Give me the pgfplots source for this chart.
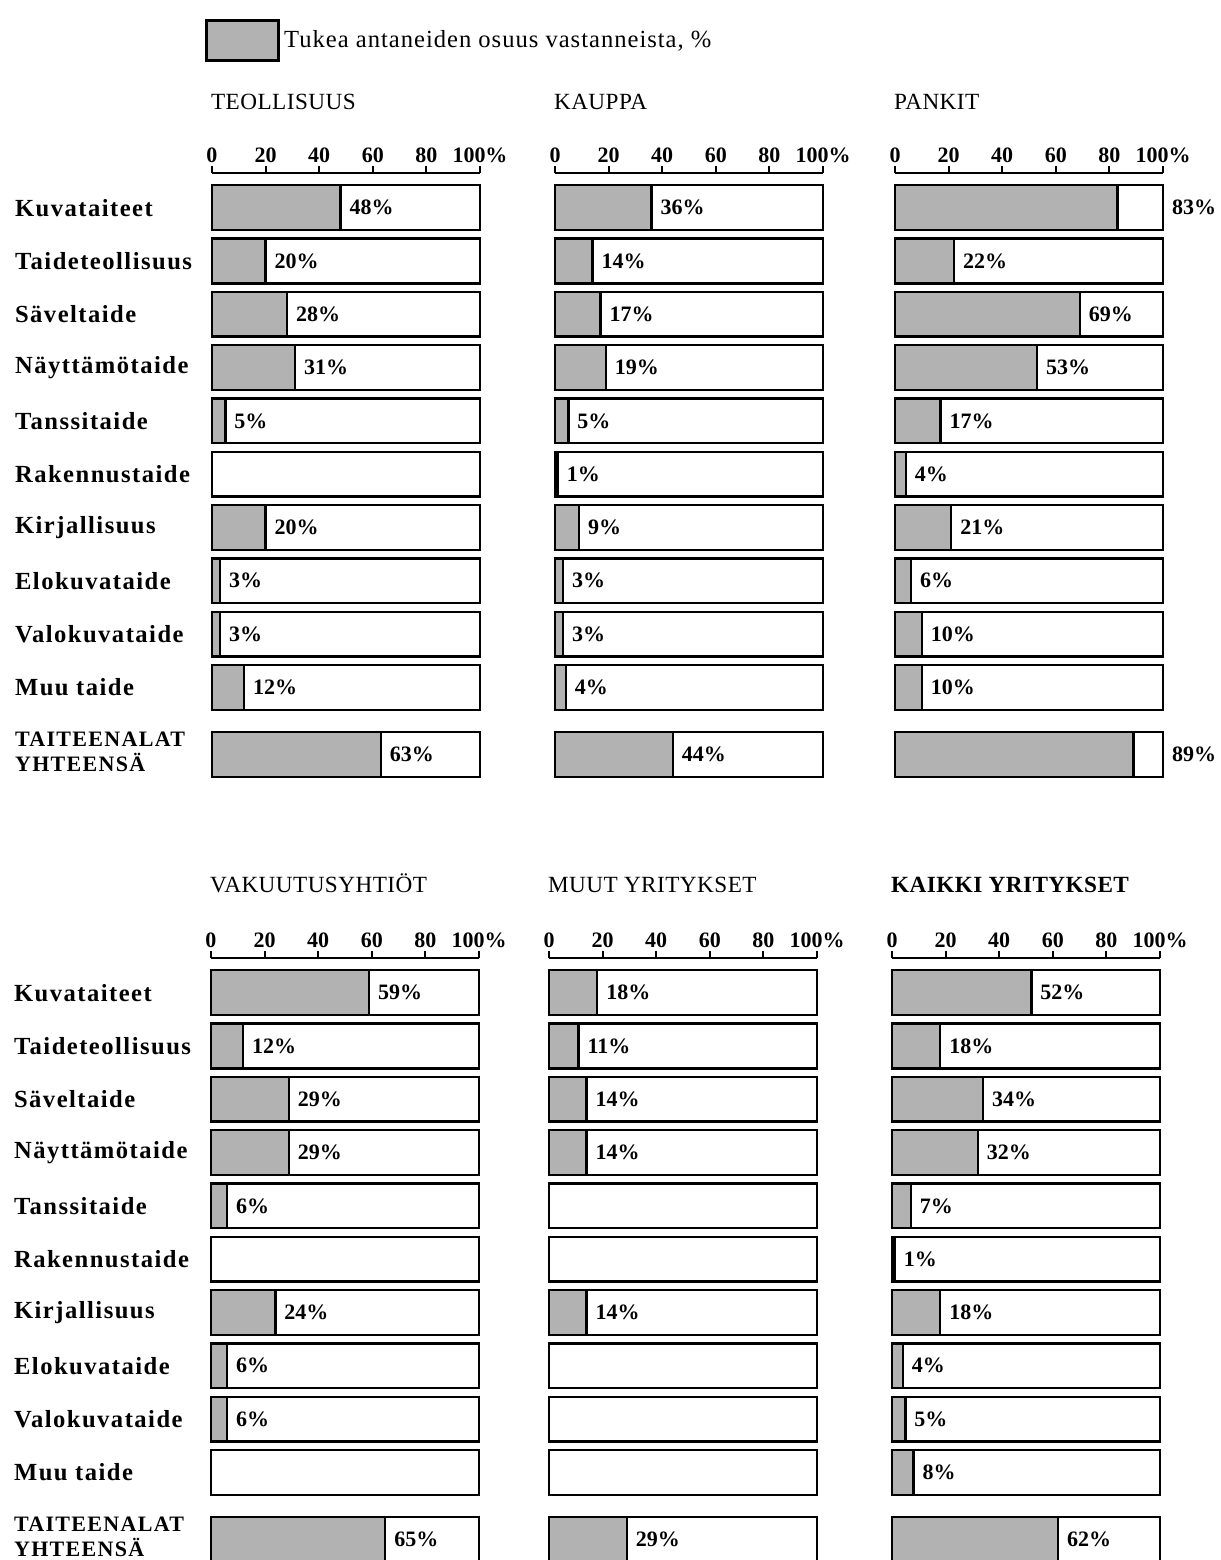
\documentclass[border=0pt]{standalone}
\usepackage{fontspec}
\setmainfont{Liberation Serif}
\newfontfamily\catfont[LetterSpace=6]{Liberation Serif}
\newfontfamily\titfont[LetterSpace=2]{Liberation Serif}
\newfontfamily\totfont[LetterSpace=6]{Liberation Serif}
\newfontfamily\legfont[LetterSpace=4]{Liberation Serif}
\usepackage{pgfplots}
\usepackage{pgfplotstable}
\pgfplotsset{compat=1.18}

\pgfplotstableread{
y v lx f
0 48 48 100
-1 20 20 100
-2 28 28 100
-3 31 31 100
-4 5 5 100
-5 nan nan 100
-6 20 20 100
-7 3 3 100
-8 3 3 100
-9 12 12 100
-10.26 63 63 100
}\teol
\pgfplotstableread{
y v lx f
0 36 36 100
-1 14 14 100
-2 17 17 100
-3 19 19 100
-4 5 5 100
-5 1 1 100
-6 9 9 100
-7 3 3 100
-8 3 3 100
-9 4 4 100
-10.26 44 44 100
}\kauppa
\pgfplotstableread{
y v lx f
0 83 100 100
-1 22 22 100
-2 69 69 100
-3 53 53 100
-4 17 17 100
-5 4 4 100
-6 21 21 100
-7 6 6 100
-8 10 10 100
-9 10 10 100
-10.26 89 100 100
}\pankit
\pgfplotstableread{
y v lx f
0 59 59 100
-1 12 12 100
-2 29 29 100
-3 29 29 100
-4 6 6 100
-5 nan nan 100
-6 24 24 100
-7 6 6 100
-8 6 6 100
-9 nan nan 100
-10.26 65 65 100
}\vakuutus
\pgfplotstableread{
y v lx f
0 18 18 100
-1 11 11 100
-2 14 14 100
-3 14 14 100
-4 nan nan 100
-5 nan nan 100
-6 14 14 100
-7 nan nan 100
-8 nan nan 100
-9 nan nan 100
-10.26 29 29 100
}\muut
\pgfplotstableread{
y v lx f
0 52 52 100
-1 18 18 100
-2 34 34 100
-3 32 32 100
-4 7 7 100
-5 1 1 100
-6 18 18 100
-7 4 4 100
-8 5 5 100
-9 8 8 100
-10.26 62 62 100
}\kaikki

\pgfplotsset{
  panel/.style={
    scale only axis, width=134pt, height=302.5pt,
    xmin=0, xmax=100, ymin=-10.7, ymax=0.65,
    axis x line=top, axis y line=left,
    x axis line style={-, line width=1pt},
    y axis line style={draw=none},
    xtick={0,20,40,60,80,100}, xticklabels={0,20,40,60,80,100\%},
    x tick label style={font=\fontsize{11}{13}\selectfont\bfseries, yshift=-2pt},
    tick align=outside, major tick length=3.5pt,
    xtick style={line width=1pt, black},
    ytick style={draw=none},
    ytick={0,-1,-2,-3,-4,-5,-6,-7,-8,-9,-10.26},
    yticklabels={},
    clip=false,
    /pgf/number format/assume math mode=true,
    title style={at={(0,1)}, anchor=base west, xshift=-4pt, font=\titfont\fontsize{11.6}{13}\selectfont},
  },
  catlabels/.style={
    yticklabels={Kuvataiteet,Taideteollisuus,S\"aveltaide,N\"aytt\"am\"otaide,Tanssitaide,Rakennustaide,Kirjallisuus,Elokuvataide,Valokuvataide,Muu taide,{\totfont\fontsize{11}{11.5}\selectfont\bfseries\begin{tabular}{@{}l@{}}TAITEENALAT\\YHTEENS\"A\end{tabular}}},
    yticklabel style={anchor=west, xshift=-98.5pt, font=\catfont\fontsize{12.3}{14}\selectfont\bfseries},
  },
  swatch/.style={legend image code/.code={\draw[fill=black!30, draw=black, line width=1.4pt] (0pt,-10pt) rectangle (36pt,10pt);}},
}

\newcommand\panelplots[1]{%
  \addplot[xbar, bar shift=0pt, bar width=0.84, fill=white, draw=black, line width=1.2pt, forget plot] table[x=f, y=y] {#1};
  \addplot[xbar, bar shift=0pt, bar width=0.84, fill=black!30, draw=black, line width=1.2pt, swatch]
    table[x=v, y=y] {#1};
  \addplot[draw=none, forget plot, point meta=explicit,
    nodes near coords={\pgfmathprintnumber{\pgfplotspointmeta}\%},
    nodes near coords align=horizontal,
    every node near coord/.append style={xshift=1pt, font=\fontsize{11}{13}\selectfont\bfseries}]
    table[x=lx, y=y, meta=v] {#1};
}

\begin{document}
\begin{tikzpicture}
\useasboundingbox (0,0) rectangle (610.5pt,-780pt);
% Row 1
\begin{axis}[panel, catlabels, at={(106pt,-86.5pt)}, anchor=north west, title={TEOLLISUUS}, title style={yshift=26pt},
  legend style={at={(-0.026,1.255)}, anchor=north west, draw=none, fill=none, inner sep=0pt,
    font=\legfont\fontsize{12.3}{14}\selectfont, legend cell align=left}]
\panelplots{\teol}
\addlegendentry{Tukea antaneiden osuus vastanneista, \%}
\end{axis}
\begin{axis}[panel, at={(277.5pt,-86.5pt)}, anchor=north west, title={KAUPPA}, title style={yshift=26pt}]
\panelplots{\kauppa}
\end{axis}
\begin{axis}[panel, at={(447.5pt,-86.5pt)}, anchor=north west, title={PANKIT}, title style={yshift=26pt}]
\panelplots{\pankit}
\end{axis}
% Row 2
\begin{axis}[panel, catlabels, at={(105.5pt,-479pt)}, anchor=north west, title={VAKUUTUSYHTI\"OT}, title style={yshift=27pt}]
\panelplots{\vakuutus}
\end{axis}
\begin{axis}[panel, at={(274.5pt,-479pt)}, anchor=north west, title={MUUT YRITYKSET}, title style={yshift=27pt}]
\panelplots{\muut}
\end{axis}
\begin{axis}[panel, at={(446pt,-479pt)}, anchor=north west, title={\bfseries KAIKKI YRITYKSET}, title style={yshift=27pt}]
\panelplots{\kaikki}
\end{axis}
\end{tikzpicture}
\end{document}
